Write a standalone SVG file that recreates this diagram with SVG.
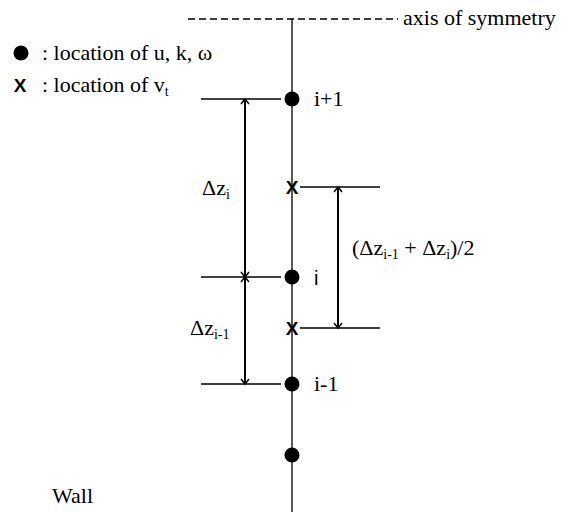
<svg xmlns="http://www.w3.org/2000/svg" width="561" height="512" viewBox="0 0 561 512">
<defs>
<style>
.t{font-family:"Liberation Serif","Times New Roman",serif;font-size:22px;fill:#000}
.sub{font-size:14px}
.s{font-family:"Liberation Sans",Arial,sans-serif;fill:#000}
.x{font-family:"Liberation Sans",Arial,sans-serif;font-size:19px;font-weight:bold;fill:#000;text-anchor:middle}
.ln{stroke:#000;stroke-width:1.3;fill:none}
.dim{stroke:#000;stroke-width:2;fill:none;marker-start:url(#ah);marker-end:url(#ah)}
</style>
<marker id="ah" viewBox="-6 -6 12 12" markerWidth="12" markerHeight="12" markerUnits="userSpaceOnUse" refX="0" refY="0" orient="auto-start-reverse">
<path d="M-5,-4 L0,0 L-5,4" stroke="#000" stroke-width="1.5" fill="none"/>
</marker>
</defs>
<rect width="561" height="512" fill="#fff"/>
<g id="connectors">
<line class="ln" x1="292" y1="19" x2="292" y2="512"/>
<line class="ln" x1="188" y1="19" x2="398" y2="19" stroke-dasharray="7,4"/>
<line class="ln" x1="201" y1="99" x2="281" y2="99"/>
<line class="ln" x1="201" y1="277" x2="281" y2="277"/>
<line class="ln" x1="201" y1="384" x2="281" y2="384"/>
<line class="ln" x1="300" y1="187" x2="380" y2="187"/>
<line class="ln" x1="300" y1="328" x2="380" y2="328"/>
<line class="dim" x1="245" y1="99" x2="245" y2="277"/>
<line class="dim" x1="245" y1="277" x2="245" y2="384"/>
<line class="dim" x1="338" y1="187" x2="338" y2="328"/>
</g>
<g id="legend">
<circle cx="21" cy="53" r="7.5" fill="#000"/>
<text class="t" x="42" y="60">: location of u, k, ω</text>
<text class="x" x="20" y="92">X</text>
<text class="t" x="42" y="92">: location of v<tspan class="sub" dy="4">t</tspan></text>
</g>
<g id="axis-label"><text class="t" x="403" y="25">axis of symmetry</text></g>
<g id="node-ip1"><circle cx="292" cy="99" r="7.5" fill="#000"/><text class="t" x="314" y="106">i+1</text></g>
<g id="node-xu"><text class="x" x="292" y="194">X</text></g>
<g id="node-i"><circle cx="292" cy="277" r="7.5" fill="#000"/><text class="s" x="314" y="285" font-size="20">i</text></g>
<g id="node-xl"><text class="x" x="292" y="335">X</text></g>
<g id="node-im1"><circle cx="292" cy="384" r="7.5" fill="#000"/><text class="t" x="314" y="391">i-1</text></g>
<g id="node-bottom"><circle cx="292" cy="455" r="7.5" fill="#000"/></g>
<g id="labels">
<text class="t" x="202" y="195">Δz<tspan class="sub" dy="4">i</tspan></text>
<text class="t" x="190" y="335">Δz<tspan class="sub" dy="4">i-1</tspan></text>
<text class="t" x="352" y="255">(Δz<tspan class="sub" dy="4">i-1</tspan><tspan dy="-4"> + Δz</tspan><tspan class="sub" dy="4">i</tspan><tspan dy="-4">)/2</tspan></text>
<text class="t" x="52" y="503">Wall</text>
</g>
</svg>
